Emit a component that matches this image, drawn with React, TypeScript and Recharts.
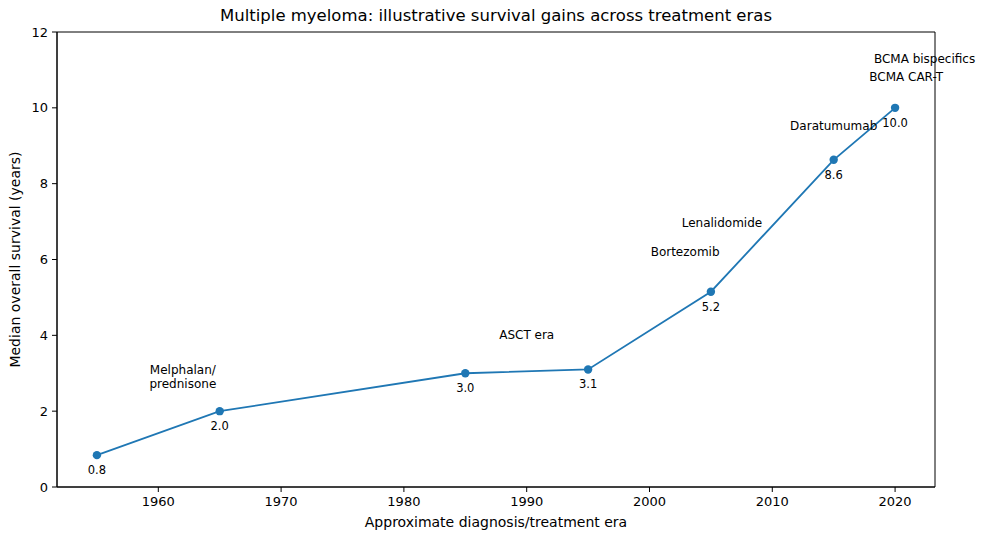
import React from 'react';
import {
  ComposedChart,
  Line,
  Scatter,
  XAxis,
  YAxis,
  ReferenceArea,
  Label,
} from 'recharts';

const years = [1955, 1965, 1985, 1995, 2005, 2015, 2020];
const survival = [0.84, 2.0, 3.0, 3.1, 5.15, 8.63, 10.0];

const noteText = [
  'Melphalan/\nprednisone',
  'ASCT era',
  'Bortezomib',
  'Lenalidomide',
  'Daratumumab',
  'BCMA CAR-T',
  'BCMA bispecifics',
];
const noteYears = [1962, 1990, 2002.9, 2005.9, 2015, 2020.9, 2022.4];
const noteY = [2.89, 4.0, 6.2, 6.96, 9.52, 10.81, 11.3];

const xTicks = [1960, 1970, 1980, 1990, 2000, 2010, 2020];
const yTicks = [0, 2, 4, 6, 8, 10, 12];

const FONT = '"DejaVu Sans", sans-serif';
const BLUE = '#1f77b4';

const lineData = years.map((year, i) => ({ year, os: survival[i] }));
const noteData = noteYears.map((year, i) => ({ year, os: noteY[i], text: noteText[i] }));

const valueLabel = (props: any) => {
  const { x, y, value } = props;
  return (
    <text x={x} y={y + 15} textAnchor="middle" dominantBaseline="central" fontSize={11.5} fontFamily={FONT} fill="#000">
      {Number(value).toFixed(1)}
    </text>
  );
};

const noteShape = (props: any) => {
  const { cx, cy, payload } = props;
  const lines = String(payload.text).split('\n');
  const start = cy - ((lines.length - 1) * 14) / 2;
  return (
    <g>
      {lines.map((l, i) => (
        <text
          key={i}
          x={cx}
          y={start + i * 14}
          textAnchor="middle"
          dominantBaseline="central"
          fontSize={12}
          fontFamily={FONT}
          fill="#000"
        >
          {l}
        </text>
      ))}
    </g>
  );
};

const xTick = (props: any) => {
  const { x, y, payload } = props;
  return (
    <text x={x} y={y + 7} textAnchor="middle" dominantBaseline="central" fontSize={13} fontFamily={FONT} fill="#000">
      {payload.value}
    </text>
  );
};

const yTick = (props: any) => {
  const { x, y, payload } = props;
  return (
    <text x={x - 2} y={y} textAnchor="end" dominantBaseline="central" fontSize={13} fontFamily={FONT} fill="#000">
      {payload.value}
    </text>
  );
};

export default function App() {
  return (
    <div style={{ position: 'absolute', top: 0, left: 0, width: 988, height: 540, background: '#fff', fontFamily: FONT }}>
      <div
        style={{
          position: 'absolute',
          top: 6,
          left: 57,
          width: 878,
          textAlign: 'center',
          fontSize: 16.5,
          color: '#000',
        }}
      >
        Multiple myeloma: illustrative survival gains across treatment eras
      </div>
      <ComposedChart width={988} height={540} data={lineData} margin={{ top: 32, right: 53, left: 10, bottom: 13 }}>
        <XAxis
          dataKey="year"
          type="number"
          domain={[1951.75, 2023.25]}
          ticks={xTicks}
          height={40}
          tickSize={5}
          stroke="#000"
          tick={xTick}
        >
          <Label value="Approximate diagnosis/treatment era" position="insideBottom" offset={0} fill="#000" fontSize={14} fontFamily={FONT} />
        </XAxis>
        <YAxis
          type="number"
          domain={[0, 12]}
          ticks={yTicks}
          width={47}
          tickSize={5}
          stroke="#000"
          tick={yTick}
        >
          <Label
            value="Median overall survival (years)"
            angle={-90}
            position="insideLeft"
            offset={5}
            style={{ textAnchor: 'middle' }}
            fill="#000"
            fontSize={14}
            fontFamily={FONT}
          />
        </YAxis>
        <ReferenceArea x1={1951.75} x2={2023.25} y1={0} y2={12} fill="none" stroke="#000" strokeWidth={1} />
        <Line
          dataKey="os"
          stroke={BLUE}
          strokeWidth={1.8}
          dot={{ r: 4.2, fill: BLUE, stroke: BLUE, strokeWidth: 0 }}
          activeDot={false}
          label={valueLabel}
          isAnimationActive={false}
        />
        <Scatter data={noteData} dataKey="os" shape={noteShape} isAnimationActive={false} />
      </ComposedChart>
    </div>
  );
}
